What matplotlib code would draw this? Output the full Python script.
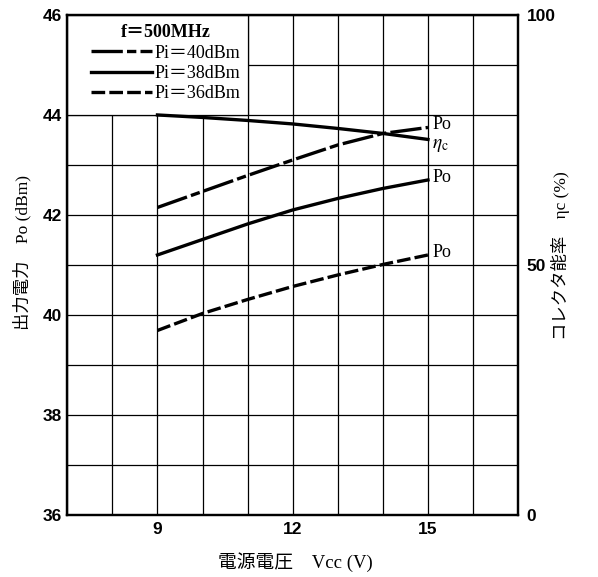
import matplotlib
matplotlib.use("Agg")
import matplotlib.pyplot as plt
from matplotlib.patches import Rectangle
from matplotlib.font_manager import FontProperties

plt.rcParams['font.family'] = ['Liberation Serif', 'Noto Sans CJK JP', 'DejaVu Sans']
plt.rcParams['mathtext.fontset'] = 'stix'

# supply voltage (V)
vcc = [9, 10, 11, 12, 13, 14, 15]
# output power Po (dBm) for each input power
po_40 = [42.15, 42.47, 42.79, 43.10, 43.40, 43.63, 43.75]
po_38 = [41.20, 41.51, 41.82, 42.10, 42.33, 42.53, 42.70]
po_36 = [39.69, 40.03, 40.31, 40.57, 40.80, 41.01, 41.20]
# collector efficiency (%)
eta_c = [80.0, 79.5, 78.9, 78.2, 77.3, 76.3, 75.1]

left_ticks = [36, 38, 40, 42, 44, 46]
right_ticks = [0, 50, 100]
x_labels = {9: '9', 12: '12', 15: '15'}

fig = plt.figure(figsize=(5.98, 5.77), dpi=100)
ax = fig.add_axes([0.1125, 0.1075, 0.754, 0.8666])
ax2 = ax.twinx()

ax.set_xlim(7, 17)
ax.set_ylim(36, 46)
ax2.set_ylim(0, 100)

# grid every 1 V / 1 dB
ax.set_xticks(range(7, 18))
ax.set_xticklabels([x_labels.get(v, '') for v in range(7, 18)])
ax.set_yticks(range(36, 47))
ax.set_yticklabels([str(v) if v in left_ticks else '' for v in range(36, 47)])
ax2.set_yticks(right_ticks)
ax2.set_yticklabels([str(v) for v in right_ticks])
ax.set_axisbelow(True)
ax.grid(True, color='black', linewidth=0.9)

tick_font = FontProperties(family='Liberation Sans', weight='bold', size=12.5)
for lab in ax.get_xticklabels() + ax.get_yticklabels() + ax2.get_yticklabels():
    lab.set_fontproperties(tick_font)
ax.tick_params(length=0, pad=4)
ax.tick_params(axis='x', pad=5)
ax2.tick_params(length=0, pad=6)

for a in (ax, ax2):
    for s in a.spines.values():
        s.set_linewidth(1.6)

# blank box for the legend
ax.add_patch(Rectangle((7, 44), 4, 2, facecolor='white', edgecolor='black',
                       linewidth=0.9, zorder=1))

lw = 2.4
l40, = ax.plot(vcc, po_40, color='black', linewidth=lw, linestyle=(0, (9.4, 1.25, 2.8, 1.25)),
               label='Pi＝40dBm', zorder=3)
l38, = ax.plot(vcc, po_38, color='black', linewidth=lw, linestyle='-',
               label='Pi＝38dBm', zorder=3)
l36, = ax.plot(vcc, po_36, color='black', linewidth=lw, linestyle=(0, (4.1, 1.25)),
               label='Pi＝36dBm', zorder=3)
ax2.plot(vcc, eta_c, color='black', linewidth=lw, linestyle='-')

# curve end labels
ax.text(15.1, po_40[-1] + 0.05, 'Po', fontsize=13, va='center', ha='left')
ax2.text(15.1, eta_c[-1] - 1.3, r'$\eta_{\rm c}$', fontsize=14, va='center', ha='left')
ax.text(15.1, po_38[-1] + 0.05, 'Po', fontsize=13, va='center', ha='left')
ax.text(15.1, po_36[-1] + 0.05, 'Po', fontsize=13, va='center', ha='left')

leg = ax.legend(handles=[l40, l38, l36], loc='upper left', bbox_to_anchor=(0.02, 1.01),
                frameon=False, title='f＝500MHz', fontsize=13, title_fontsize=13,
                handlelength=3.4, handletextpad=0.15, labelspacing=0.18, borderpad=0.3)
leg.set_zorder(5)
leg.get_title().set_fontweight('bold')

ax.set_ylabel('出力電力　Po (dBm)', fontsize=12.5)
ax.yaxis.set_label_coords(-0.08, 0.524)
ax2.set_ylabel('コレクタ能率　ηc (%)', fontsize=12.5)
ax2.yaxis.set_label_coords(1.073, 0.518)
ax.set_xlabel('電源電圧　Vcc (V)', fontsize=13.5)
ax.xaxis.set_label_coords(0.505, -0.075)

fig.savefig('out.png', dpi=100)
